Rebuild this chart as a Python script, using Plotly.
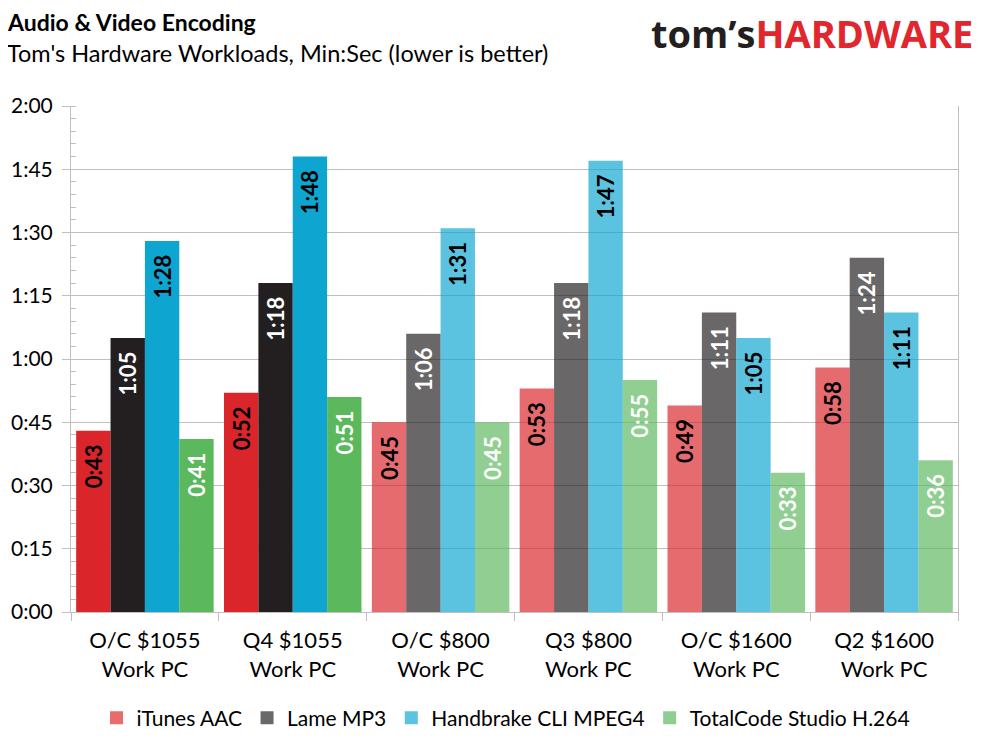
import plotly.graph_objects as go

categories = ["O/C $1055<br>Work PC", "Q4 $1055<br>Work PC", "O/C $800<br>Work PC",
              "Q3 $800<br>Work PC", "O/C $1600<br>Work PC", "Q2 $1600<br>Work PC"]
series_names = ["iTunes AAC", "Lame MP3", "Handbrake CLI MPEG4", "TotalCode Studio H.264"]
# seconds
itunes = [43, 52, 45, 53, 49, 58]
lame = [65, 78, 66, 78, 71, 84]
handbrake = [88, 108, 91, 107, 65, 71]
totalcode = [41, 51, 45, 55, 33, 36]
series_values = [itunes, lame, handbrake, totalcode]

sat_colors = ["#DA252A", "#231F20", "#0EA5D1", "#5BB85D"]
light_colors = ["#E86B6E", "#6A6869", "#5CC3E0", "#8FCE91"]
text_colors = ["#000000", "#FFFFFF", "#000000", "#FFFFFF"]
group_opacity = [1, 1, 0.68, 0.68, 0.68, 0.68]

y_tickvals = [0, 15, 30, 45, 60, 75, 90, 105, 120]


def fmt(s):
    return f"{s // 60}:{s % 60:02d}"


# page has an 8px body margin; figure is sized to fill the rest of the window
PAGE_OFF = 8
PL, PR, PT, PB = 71, 958, 106, 612  # plot box in window pixels


def px(sx):
    return (sx - PL) / (PR - PL)


def py(sy):
    return (PB - sy) / (PB - PT)


fig = go.Figure()
for name, vals, col, tcol in zip(series_names, series_values, sat_colors, text_colors):
    fig.add_trace(go.Bar(
        x=categories, y=vals, name=name, showlegend=False,
        marker=dict(color=col, opacity=group_opacity, line=dict(width=0)),
        text=[fmt(v) + "\u00a0\u00a0" for v in vals],
        textposition="inside", insidetextanchor="end", textangle=-90,
        constraintext="none",
        textfont=dict(family="Lato", size=22, color=tcol, weight="bold"),
        hoverinfo="skip",
    ))
for name, col in zip(series_names, light_colors):
    fig.add_trace(go.Scatter(
        x=[None], y=[None], mode="markers", name=name,
        marker=dict(symbol="square", size=13, color=col),
    ))

fig.update_layout(
    width=989 - PAGE_OFF, height=742 - PAGE_OFF,
    margin=dict(l=PL - PAGE_OFF, r=989 - PR, t=PT - PAGE_OFF, b=742 - PB, autoexpand=False),
    paper_bgcolor="white", plot_bgcolor="white",
    barmode="group", bargap=0.07, bargroupgap=0,
    font=dict(family="Lato", size=22, color="#000000"),
    showlegend=True,
    legend=dict(orientation="h", x=px(506), xanchor="center", y=py(718), yanchor="middle",
                font=dict(family="Lato", size=21), itemwidth=30, tracegroupgap=0),
    uniformtext=dict(mode=False),
)
fig.update_xaxes(
    type="category", showline=True, linecolor="#BFBFBF", linewidth=1,
    ticks="outside", tickson="boundaries", ticklen=8, tickcolor="#BFBFBF",
    showgrid=False, tickfont=dict(family="Lato", size=22), automargin=False,
    ticklabelstandoff=9,
)
fig.update_yaxes(
    range=[0, 120], tickvals=y_tickvals, ticktext=[fmt(v) for v in y_tickvals],
    showline=True, linecolor="#BFBFBF", linewidth=1, mirror=True,
    ticks="outside", ticklen=8, tickcolor="#BFBFBF",
    showgrid=True, gridcolor="#BFBFBF", gridwidth=1, zeroline=False,
    minor=dict(dtick=3, tick0=0, ticks="inside", ticklen=5, tickcolor="#BFBFBF", showgrid=False),
    tickfont=dict(family="Lato", size=21), ticklabelstandoff=5, automargin=False,
)

fig.add_annotation(text="<b>Audio &amp; Video Encoding</b>", xref="paper", yref="paper",
                   x=px(5), y=py(22), xanchor="left", yanchor="middle",
                   showarrow=False, font=dict(family="Lato", size=23, color="#000000"))
fig.add_annotation(text="Tom's Hardware Workloads, Min:Sec (lower is better)", xref="paper", yref="paper",
                   x=px(5), y=py(53), xanchor="left", yanchor="middle",
                   showarrow=False, font=dict(family="Lato", size=23.5, color="#000000"))
fig.add_annotation(text="<b>tom\u2019s</b><b><span style='color:#E1262D'>HARDWARE</span></b>",
                   xref="paper", yref="paper",
                   x=px(975), y=py(33), xanchor="right", yanchor="middle",
                   showarrow=False, font=dict(family="Open Sans", size=38, color="#231F20"))

fig.write_html("out.html")
